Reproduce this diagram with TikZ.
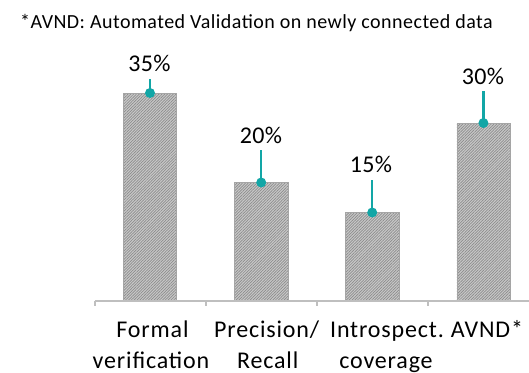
\documentclass[tikz,border=0pt]{standalone}
\usepackage{fontspec}
\setmainfont{Carlito}
\usetikzlibrary{patterns.meta}
\definecolor{tealc}{RGB}{18,166,166}
\definecolor{axisc}{RGB}{191,191,191}
\definecolor{barfill}{RGB}{200,200,200}
\definecolor{barline}{RGB}{140,140,140}
\definecolor{barborder}{RGB}{165,165,165}
\begin{document}
\begin{tikzpicture}[x=1pt,y=-1pt,
  bar/.style={draw=barborder,line width=0.6pt,preaction={fill=barfill},
    pattern={Lines[angle=45,distance=2pt,line width=0.7pt]},pattern color=barline},
  lead/.style={draw=tealc,line width=2.2pt},
  dotc/.style={circle,fill=tealc,inner sep=0pt,minimum size=10pt},
  pct/.style={font=\fontsize{24}{28}\selectfont\addfontfeatures{LetterSpace=1.5},anchor=base,inner sep=0pt},
  cat/.style={font=\fontsize{24}{28}\selectfont\addfontfeatures{LetterSpace=3.5},anchor=base,inner sep=0pt},
  axisl/.style={draw=axisc,line width=1.5pt}]
\useasboundingbox (0,0) rectangle (529,372);
% title
\node[font=\fontsize{20}{24}\selectfont\addfontfeatures{LetterSpace=2.3},anchor=base west,inner sep=0pt] (title) at (20,28.3) {*AVND: Automated Validation on newly connected data};
% bars
\path[bar] (123.3,301) rectangle (176.7,93) node[midway] (b1) {};
\path[bar] (234.5,301) rectangle (287.8,182.5) node[midway] (b2) {};
\path[bar] (345.5,301) rectangle (398.8,212.5) node[midway] (b3) {};
\path[bar] (456.8,301) rectangle (510,123) node[midway] (b4) {};
% axis
\coordinate (a0) at (95,301);
\coordinate (a1) at (529,301);
\draw[axisl] (a0) -- (a1);
\foreach \x [count=\i] in {95,206,317,428}{
  \coordinate (t\i) at (\x,301);
  \coordinate (u\i) at (\x,306);
  \draw[axisl] (t\i) -- (u\i);
}
% dots and leaders
\node[dotc] (d1) at (150,93) {};
\node[dotc] (d2) at (261.2,182.5) {};
\node[dotc] (d3) at (372.2,212.5) {};
\node[dotc] (d4) at (483.4,123) {};
\coordinate (l1) at (150,79.3);
\coordinate (l2) at (261.2,150);
\coordinate (l3) at (372.2,180);
\coordinate (l4) at (483.4,91);
\draw[lead] (l1) -- (d1.center);
\draw[lead] (l2) -- (d2.center);
\draw[lead] (l3) -- (d3.center);
\draw[lead] (l4) -- (d4.center);
% value labels
\node[pct] (p1) at (149.5,71.7) {35\%};
\node[pct] (p2) at (261,143) {20\%};
\node[pct] (p3) at (371,172.7) {15\%};
\node[pct] (p4) at (483,84) {30\%};
% category labels
\node[cat] (c1a) at (152.5,337.3) {Formal};
\node[cat] (c1b) at (151,368) {verification};
\node[cat] (c2a) at (266.7,337.3) {Precision/};
\node[cat] (c2b) at (267.7,368) {Recall};
\node[cat] (c3a) at (387,337.3) {Introspect.};
\node[cat] (c3b) at (386,368) {coverage};
\node[cat] (c4a) at (487,337.3) {AVND*};
\end{tikzpicture}
\end{document}
